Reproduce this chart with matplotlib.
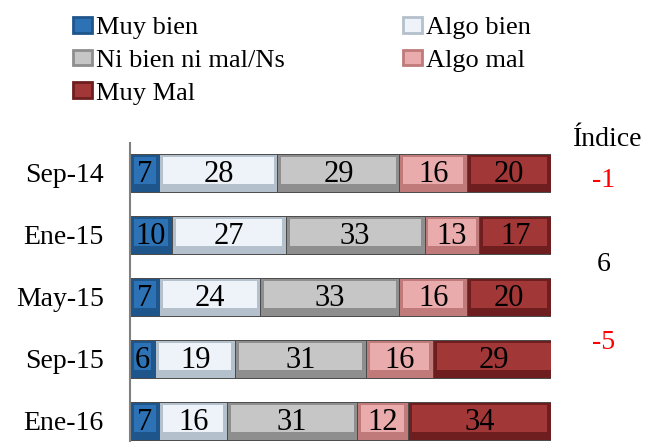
import matplotlib
matplotlib.use("Agg")
import matplotlib.pyplot as plt
from matplotlib.patches import Patch
import numpy as np

plt.rcParams["font.family"] = ["Liberation Serif", "DejaVu Serif"]

periods = ["Sep-14", "Ene-15", "May-15", "Sep-15", "Ene-16"]
series_names = ["Muy bien", "Algo bien", "Ni bien ni mal/Ns", "Algo mal", "Muy Mal"]
muy_bien = [7, 10, 7, 6, 7]
algo_bien = [28, 27, 24, 19, 16]
ni_bien = [29, 33, 33, 31, 31]
algo_mal = [16, 13, 16, 16, 12]
muy_mal = [20, 17, 20, 29, 34]
index_labels = ["-1", "6", "-5"]
index_rows = [0.12, 1.48, 2.74]  # vertical position between rows, in row units
index_colors = ["#FF0000", "#000000", "#FF0000"]

outer_cols = ["#1E568C", "#B4C0CC", "#8E8E8E", "#C07A7A", "#6E1E1E"]
inner_cols = ["#2C72B4", "#EDF3F9", "#C6C6C6", "#E9ABAB", "#A23737"]

values = np.array([muy_bien, algo_bien, ni_bien, algo_mal, muy_mal], dtype=float)

fig = plt.figure(figsize=(6.47, 4.42), dpi=100)
ax = fig.add_axes([0.2009, 0.0, 0.6507, 0.6765])

y = np.arange(len(periods))
h = 0.62
left = np.zeros(len(periods))
for k in range(len(series_names)):
    w = values[k]
    ax.barh(y, w, left=left, height=h, color=outer_cols[k],
            edgecolor="#4A4A4A", linewidth=0.7, zorder=2)
    ax.barh(y - 0.04, w - 1.8, left=left + 0.9, height=h * 0.7,
            color=inner_cols[k], linewidth=0, zorder=3)
    for i in range(len(periods)):
        ax.text(left[i] + w[i] / 2, y[i] + 0.03, f"{int(w[i])}",
                ha="center", va="center", fontsize=22, color="black", zorder=4)
    left = left + w

ax.set_xlim(0, 100)
ax.set_ylim(4.34, -0.48)
ax.set_yticks(y)
ax.set_yticklabels(periods, fontsize=20)
ax.tick_params(axis="y", length=0, pad=19)
ax.set_xticks([])
for s in ["top", "right", "bottom"]:
    ax.spines[s].set_visible(False)
ax.spines["left"].set_color("#808080")
ax.spines["left"].set_linewidth(1.5)

ax.text(113.4, -0.53, "Índice", ha="center", va="center", fontsize=20, clip_on=False)
for lab, r, c in zip(index_labels, index_rows, index_colors):
    ax.text(112.6, r, lab, ha="center", va="center", fontsize=20, color=c, clip_on=False)

handles = [Patch(facecolor=inner_cols[k], edgecolor=outer_cols[k], linewidth=2)
           for k in range(len(series_names))]
order = [0, 2, 4, 1, 3]
fig.legend([handles[i] for i in order], [series_names[i] for i in order],
           ncol=2, loc="upper left", bbox_to_anchor=(0.097, 0.986), frameon=False,
           fontsize=19, handlelength=0.7, handleheight=0.55, handletextpad=0.15,
           labelspacing=0.4, columnspacing=4.5, borderaxespad=0)

fig.savefig("out.png", dpi=100)
